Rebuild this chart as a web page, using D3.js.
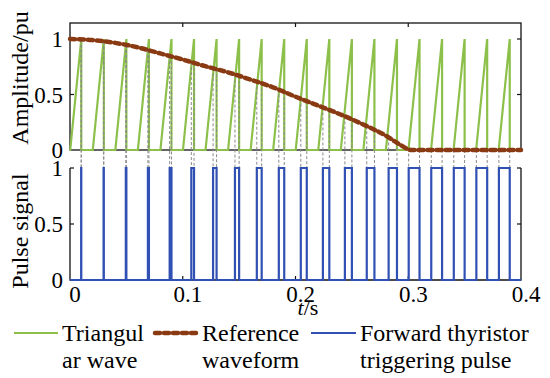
<!DOCTYPE html>
<html>
<head>
<meta charset="utf-8">
<script src="https://cdn.jsdelivr.net/npm/d3@7"></script>
</head>
<body style="margin:0">
<svg id="chart" width="550" height="378"></svg>
<script>
// carrier (triangular wave) peak times, rise time of each tooth
var triPeaks = [0.01, 0.03, 0.05, 0.07, 0.09, 0.11, 0.13, 0.15, 0.17, 0.19,
                0.21, 0.23, 0.25, 0.27, 0.29, 0.31, 0.33, 0.35, 0.37, 0.39];
var triRise = 0.0098;

// reference waveform
var refT = [0, 0.02, 0.04, 0.06, 0.08, 0.10, 0.12, 0.14, 0.16, 0.18, 0.20,
            0.22, 0.24, 0.26, 0.28, 0.29, 0.303, 0.32, 0.34, 0.36, 0.38, 0.40];
var refV = [1.0, 0.99, 0.965, 0.925, 0.87, 0.815, 0.755, 0.70, 0.635, 0.565, 0.48,
            0.40, 0.32, 0.23, 0.13, 0.065, 0.0, 0.0, 0.0, 0.0, 0.0, 0.0];

// forward thyristor trigger pulses (on / off times)
var pulseOn  = [0.0099, 0.0298, 0.0495, 0.0691, 0.0884, 0.1076, 0.1269, 0.1463, 0.1657, 0.1852,
                0.2047, 0.2243, 0.2438, 0.2632, 0.2826, 0.3004, 0.3204, 0.3404, 0.3604, 0.3804];
var pulseOff = triPeaks;

var xTicks = [0, 0.1, 0.2, 0.3, 0.4];
var yTicks = [0, 0.5, 1];
var legendNames = [["Triangul", "ar wave"], ["Reference", "waveform"], ["Forward thyristor", "triggering pulse"]];

var green = "#8cc04a", red = "#c8321e", brown = "#8a3a12", blue = "#3050b4";

var svg = d3.select("#chart");

var x = d3.scaleLinear().domain([0, 0.4]).range([70, 521]);
var yTop = d3.scaleLinear().domain([0, 1]).range([150, 39]);
var yBot = d3.scaleLinear().domain([0, 1]).range([280, 168]);
var topY0 = 23;

var refAt = function(t) {
  var i = d3.bisectRight(refT, t) - 1;
  if (i < 0) return refV[0];
  if (i >= refT.length - 1) return refV[refV.length - 1];
  var f = (t - refT[i]) / (refT[i + 1] - refT[i]);
  return refV[i] + f * (refV[i + 1] - refV[i]);
};

// text in the Times-like face
function addText(parent, size) {
  return parent.append("text")
    .style("font-family", "\"Liberation Serif\"", "important")
    .style("font-size", size + "px");
}

// ---- triangle wave
var triPts = [[0, 0]];
triPeaks.forEach(function(p) {
  triPts.push([p - triRise, 0], [p, 1], [p, 0]);
});
triPts.push([0.4, 0]);

// ---- pulse train
var pulsePts = [[0, 0]];
pulseOn.forEach(function(on, i) {
  pulsePts.push([on, 0], [on, 1], [pulseOff[i], 1], [pulseOff[i], 0]);
});
pulsePts.push([0.4, 0]);

// frames
var frame = svg.append("g").attr("stroke", "#111").attr("stroke-width", 1.3).attr("fill", "none");
frame.append("rect").attr("x", x(0)).attr("y", topY0)
  .attr("width", x(0.4) - x(0)).attr("height", yTop(0) - topY0);
frame.append("path")
  .attr("d", "M" + x(0) + "," + yBot(1) + "V" + yBot(0) + "H" + x(0.4) + "V" + yBot(1));

// inward ticks
var tk = svg.append("g").attr("stroke", "#111").attr("stroke-width", 1.2);
xTicks.slice(1, -1).forEach(function(t) {
  tk.append("line").attr("x1", x(t)).attr("x2", x(t)).attr("y1", topY0).attr("y2", topY0 + 4);
  tk.append("line").attr("x1", x(t)).attr("x2", x(t)).attr("y1", yBot(0)).attr("y2", yBot(0) - 4);
});
yTicks.slice(1).forEach(function(v) {
  [yTop, yBot].forEach(function(s) {
    tk.append("line").attr("x1", x(0)).attr("x2", x(0) + 4).attr("y1", s(v)).attr("y2", s(v));
    tk.append("line").attr("x1", x(0.4)).attr("x2", x(0.4) - 4).attr("y1", s(v)).attr("y2", s(v));
  });
});

// triangular wave
var line = d3.line().x(function(d) { return x(d[0]); });
svg.append("path").datum(triPts)
  .attr("d", line.y(function(d) { return yTop(d[1]); }))
  .attr("fill", "none").attr("stroke", green).attr("stroke-width", 2.2);

// dashed guide lines from crossings down to the pulses
var guides = svg.append("g").attr("stroke", "#8a8a8a").attr("stroke-width", 1)
  .attr("stroke-dasharray", "3,2");
pulseOn.forEach(function(on, i) {
  [on, pulseOff[i]].forEach(function(t) {
    guides.append("line").attr("x1", x(t)).attr("x2", x(t))
      .attr("y1", yTop(refAt(t))).attr("y2", yBot(1));
  });
});

// reference waveform
var refLine = d3.line()
  .x(function(d, i) { return x(refT[i]); })
  .y(function(d) { return yTop(d); })
  .curve(d3.curveMonotoneX);
svg.append("path").datum(refV).attr("d", refLine)
  .attr("fill", "none").attr("stroke", red).attr("stroke-width", 2);
svg.append("path").datum(refV).attr("d", refLine)
  .attr("fill", "none").attr("stroke", brown).attr("stroke-width", 4.5)
  .attr("stroke-dasharray", "5,4").attr("stroke-linecap", "round");

// pulses
svg.append("path").datum(pulsePts)
  .attr("d", line.y(function(d) { return yBot(d[1]); }))
  .attr("fill", "none").attr("stroke", blue).attr("stroke-width", 2.2);

// tick labels
xTicks.forEach(function(t) {
  addText(svg, 23).attr("x", x(t) + 5).attr("y", 302)
    .attr("text-anchor", "middle").text(t === 0 ? "0" : d3.format(".1f")(t));
});
yTicks.forEach(function(v) {
  [yTop, yBot].forEach(function(s) {
    addText(svg, 23).attr("x", 63).attr("y", s(v) + 8)
      .attr("text-anchor", "end").text(v === 0.5 ? "0.5" : v);
  });
});

// axis titles
addText(svg, 24).attr("transform", "translate(28,78) rotate(-90)")
  .attr("text-anchor", "middle").text("Amplitude/pu");
addText(svg, 24).attr("transform", "translate(28,231) rotate(-90)")
  .attr("text-anchor", "middle").text("Pulse signal");
var xt = addText(svg, 22).attr("x", 308).attr("y", 315).attr("text-anchor", "middle");
xt.append("tspan").style("font-style", "italic").text("t");
xt.append("tspan").text("/s");

// legend
var legX = [[14, 58], [153, 198], [311, 356]];
var legY = 333;
var lg = svg.append("g");
lg.append("line").attr("x1", legX[0][0]).attr("x2", legX[0][1]).attr("y1", legY).attr("y2", legY)
  .attr("stroke", green).attr("stroke-width", 2.2);
lg.append("line").attr("x1", legX[1][0]).attr("x2", legX[1][1]).attr("y1", legY).attr("y2", legY)
  .attr("stroke", red).attr("stroke-width", 2);
lg.append("line").attr("x1", legX[1][0] + 2).attr("x2", legX[1][1]).attr("y1", legY).attr("y2", legY)
  .attr("stroke", brown).attr("stroke-width", 4.5).attr("stroke-dasharray", "5,4").attr("stroke-linecap", "round");
lg.append("line").attr("x1", legX[2][0]).attr("x2", legX[2][1]).attr("y1", legY).attr("y2", legY)
  .attr("stroke", blue).attr("stroke-width", 2.2);
legendNames.forEach(function(n, i) {
  var t = addText(lg, 24).attr("x", legX[i][1] + 4).attr("y", 341);
  t.append("tspan").attr("x", legX[i][1] + 4).text(n[0]);
  t.append("tspan").attr("x", legX[i][1] + 4).attr("y", 368).text(n[1]);
});
</script>
</body>
</html>
